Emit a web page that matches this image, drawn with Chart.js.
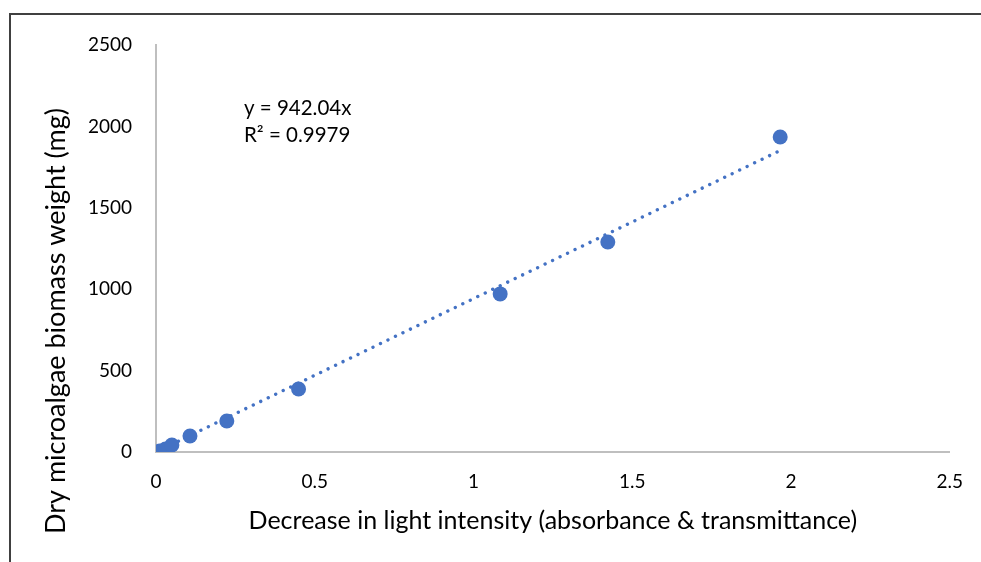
<!DOCTYPE html>
<html>
<head>
<meta charset="utf-8">
<script src="https://cdn.jsdelivr.net/npm/chart.js@4/dist/chart.umd.min.js"></script>
<style>
  html, body { margin: 0; padding: 0; background: #fff; }
  #wrap { position: relative; width: 981px; height: 562px; overflow: hidden; }
  #frame { position: absolute; left: 9px; top: 13px; width: 1000px; height: 600px;
           border-top: 2px solid #404040; border-left: 2px solid #404040; pointer-events: none; }
</style>
</head>
<body>
<div id="wrap">
  <canvas id="c" width="981" height="562"></canvas>
  <div id="frame"></div>
</div>
<script>
// Data
const xValues = [0.012, 0.03, 0.05, 0.107, 0.223, 0.449, 1.084, 1.423, 1.966];
const yValues = [6, 18, 43, 98, 190, 387, 971, 1290, 1935];
const trendSlope = 942.04;
const trendLabel = ["y = 942.04x", "R\u00B2 = 0.9979"];
const xTicks = [0, 0.5, 1, 1.5, 2, 2.5];
const yTicks = [0, 500, 1000, 1500, 2000, 2500];
const xTitle = "Decrease in light intensity (absorbance & transmittance)";
const yTitle = "Dry microalgae biomass weight (mg)";

const blue = "#4472C4";
const FONT = "Lato, 'Open Sans', sans-serif";

const points = xValues.map((x, i) => ({ x: x, y: yValues[i] }));
const xMax = Math.max(...xValues);
const trend = [{ x: 0, y: 0 }, { x: xMax, y: trendSlope * xMax }];

const annotPlugin = {
  id: 'eqn',
  afterDatasetsDraw(chart) {
    const ctx = chart.ctx;
    ctx.save();
    ctx.fillStyle = "#000";
    ctx.font = "20.5px " + FONT;
    ctx.textBaseline = "middle";
    ctx.textAlign = "left";
    ctx.fillText(trendLabel[0], 244, 108);
    ctx.fillText(trendLabel[1], 244, 135);
    // y axis title
    ctx.font = "27px " + FONT;
    ctx.textAlign = "center";
    ctx.translate(56, 321);
    ctx.rotate(-Math.PI / 2);
    ctx.fillText(yTitle, 0, 0);
    ctx.restore();
  }
};

new Chart(document.getElementById('c'), {
  data: {
    datasets: [
      {
        type: 'line',
        data: trend,
        borderColor: blue,
        borderWidth: 3.4,
        borderDash: [0.01, 8.3],
        borderCapStyle: 'round',
        pointRadius: 0,
        fill: false,
        order: 2
      },
      {
        type: 'scatter',
        data: points,
        backgroundColor: blue,
        borderColor: blue,
        borderWidth: 0,
        pointRadius: 7.5,
        order: 1
      }
    ]
  },
  options: {
    responsive: false,
    animation: false,
    devicePixelRatio: 1,
    layout: { padding: { left: 0, right: 30, top: 45, bottom: 22 } },
    plugins: { legend: { display: false }, tooltip: { enabled: false } },
    scales: {
      x: {
        type: 'linear',
        min: 0, max: 2.5,
        afterBuildTicks(scale) { scale.ticks = xTicks.map(v => ({ value: v })); },
        afterFit(scale) { scale.height = 88; },
        grid: { display: false, drawTicks: false },
        border: { color: '#bfbfbf', width: 2 },
        ticks: {
          color: '#000', padding: 18,
          font: { family: FONT, size: 19 },
          callback: v => String(v)
        },
        title: {
          display: true, text: xTitle, color: '#000',
          font: { family: FONT, size: 25 }, padding: { top: 4, bottom: 4 }
        }
      },
      y: {
        type: 'linear',
        min: 0, max: 2500,
        afterBuildTicks(scale) { scale.ticks = yTicks.map(v => ({ value: v })); },
        afterFit(scale) { scale.width = 156; },
        grid: { display: false, drawTicks: false },
        border: { color: '#bfbfbf', width: 2 },
        ticks: {
          color: '#000', padding: 24,
          font: { family: FONT, size: 19 },
          callback: v => String(v)
        },
        title: { display: false }
      }
    }
  },
  plugins: [annotPlugin]
});
</script>
</body>
</html>
